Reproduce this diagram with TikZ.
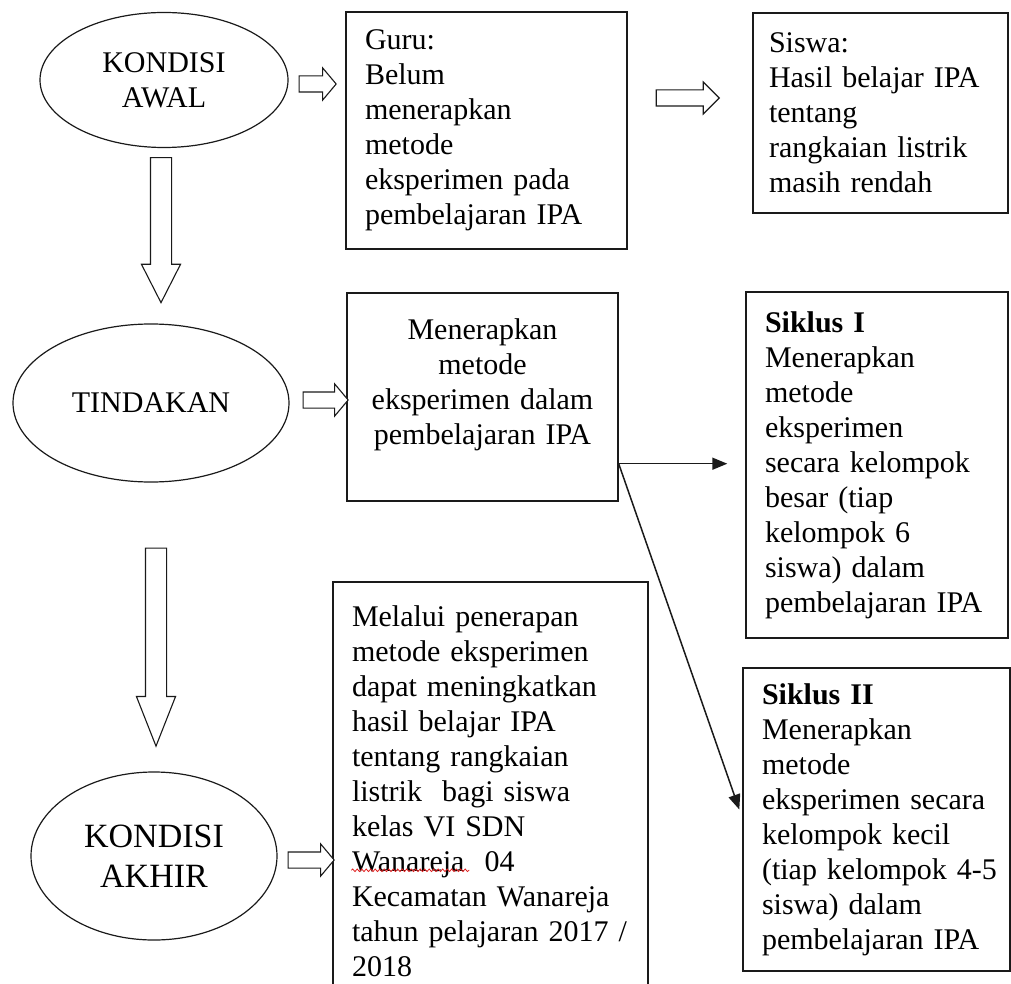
\documentclass[tikz,border=0pt]{standalone}
\usepackage{fontspec}
\setmainfont{Liberation Serif}
\usetikzlibrary{arrows.meta,calc,positioning,shapes.geometric,shapes.arrows,decorations.pathmorphing}
\definecolor{Ink}{HTML}{1A1A1A}
\definecolor{Squiggle}{HTML}{E02020}
\newcommand{\boxfont}{\fontsize{30}{35}\selectfont}
\newcommand{\bigfont}{\fontsize{34}{40}\selectfont}
\tikzset{
  stage/.style={
    ellipse, draw=Ink, line width=1.2pt, inner sep=0pt,
    align=center, font=\boxfont
  },
  textbox/.style={
    rectangle, draw=Ink, line width=1.4pt, inner xsep=19pt,
    inner ysep=0pt, align=left, font=\boxfont
  },
  hollow/.style={
    single arrow, draw=Ink, line width=1.1pt, fill=white, anchor=tail,
    inner xsep=0pt, inner ysep=7.5pt, single arrow head extend=8pt,
    single arrow tip angle=100
  },
  tallhollow/.style={hollow, rotate=-90, inner ysep=10pt, single arrow head extend=9pt},
  link/.style={-{Triangle[length=15pt,width=12pt]}, line width=1.5pt, draw=Ink},
  spellwave/.style={draw=Squiggle, line width=0.8pt, decorate,
    decoration={snake, amplitude=1.3pt, segment length=4.5pt}}
}
\begin{document}
\begin{tikzpicture}[x=1pt,y=-1pt]
  \useasboundingbox (0,0) rectangle (1011,984);
  % stages on the left
  \node[stage,minimum width=248pt,minimum height=135pt] (awal) at (164,80) {KONDISI\\AWAL};
  \node[stage,minimum width=276pt,minimum height=158pt] (tindakan) at (151,403) {TINDAKAN};
  \node[stage,minimum width=246pt,minimum height=168pt,font=\bigfont] (akhir) at (154,856) {KONDISI\\AKHIR};
  % boxes
  \node[textbox,text width=243pt,minimum height=237pt] (guru) at (486.5,130.5)
    {Guru:\\Belum\\menerapkan\\metode\\eksperimen pada\\pembelajaran IPA};
  \node[textbox,inner xsep=16pt,text width=223pt,minimum height=200pt] (siswa) at (880.5,113)
    {Siswa:\\Hasil belajar IPA\\tentang\\rangkaian listrik\\masih rendah};
  \node[textbox,align=center,text width=233pt,minimum height=208pt] (menerapkan) at (482.5,397)
    {Menerapkan\\metode\\eksperimen dalam\\pembelajaran IPA\\[-5pt]\mbox{}};
  \node[textbox,text width=224pt,minimum height=346pt] (siklus1) at (877,465)
    {\textbf{Siklus I}\\Menerapkan\\metode\\eksperimen\\secara kelompok\\besar (tiap\\kelompok 6\\siswa) dalam\\pembelajaran IPA};
  \node[textbox,text width=229pt,minimum height=303pt] (siklus2) at (876.5,819.5)
    {\textbf{Siklus II}\\Menerapkan\\metode\\eksperimen secara\\kelompok kecil\\\mbox{(tiap kelompok 4-5}\\siswa) dalam\\pembelajaran IPA};
  \node[textbox,text width=277pt,minimum height=418pt] (melalui) at (490.5,791)
    {Melalui penerapan\\metode eksperimen\\dapat meningkatkan\\hasil belajar IPA\\tentang rangkaian\\listrik\ \ bagi siswa\\kelas VI SDN\\Wanareja\ \ 04\\Kecamatan Wanareja\\tahun pelajaran 2017 /\\2018};
  % spelling mark under Wanareja
  \coordinate (wave) at ($(melalui.north west)+(19,289)$);
  \draw[spellwave] (wave) -- ++(118,0);
  % hollow arrows
  \node[hollow,minimum height=37pt] (a1) at ($(awal.east)+(10,4)$) {};
  \node[hollow,minimum height=63pt,single arrow tip angle=90] (a2) at ($(guru.east)+(28,-32.5)$) {};
  \node[hollow,minimum height=45pt] (a3) at ($(tindakan.east)+(13,-3)$) {};
  \node[hollow,minimum height=46pt] (a4) at ($(akhir.east)+(10,4)$) {};
  \node[tallhollow,minimum height=145pt,single arrow tip angle=54] (d1) at ($(awal.south)+(-3,9)$) {};
  \node[tallhollow,minimum height=198pt,single arrow tip angle=43] (d2) at ($(tindakan.south)+(5,65)$) {};
  % links to the cycles
  \coordinate (fork) at ($(menerapkan.south east)+(0,-38)$);
  \draw[link] (fork) -- ($(fork -| siklus1.west)+(-18,0)$);
  \draw[link] (fork) -- ($(siklus2.west)+(-3,-10)$);
\end{tikzpicture}
\end{document}
